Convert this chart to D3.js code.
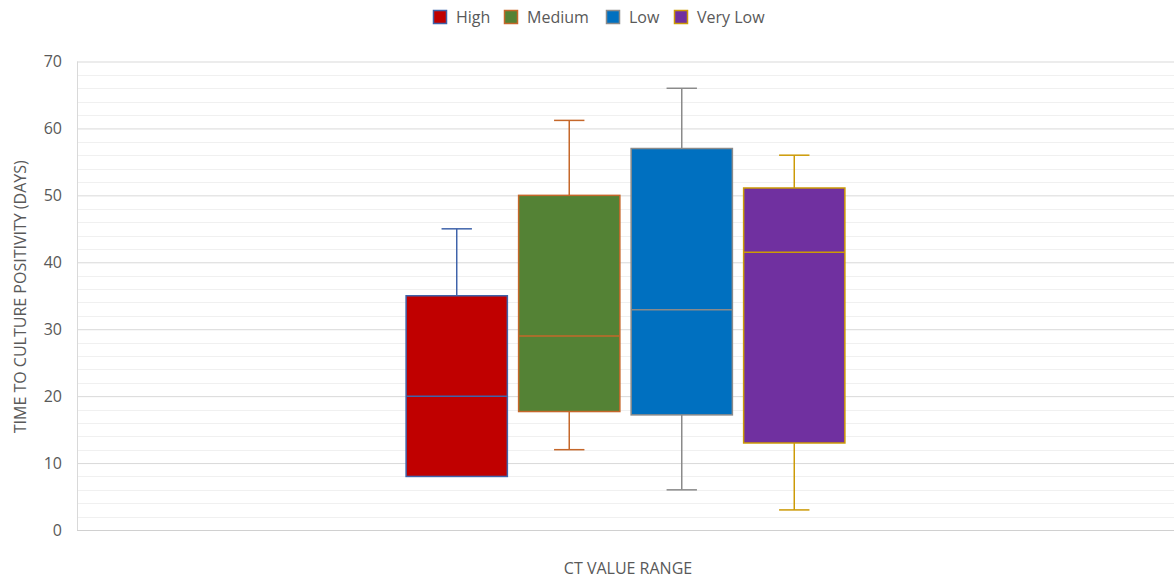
<!DOCTYPE html>
<html>
<head>
<meta charset="utf-8">
<script src="https://cdn.jsdelivr.net/npm/d3@7"></script>
<style>
  html, body { margin: 0; padding: 0; background: #fff; }
  svg { display: block; font-family: "Open Sans", "Liberation Sans", sans-serif; }
</style>
</head>
<body>
<svg id="chart" width="1175" height="580"></svg>
<script>
// ---- data ----
const seriesNames = ["High", "Medium", "Low", "Very Low"];
const whiskerMin = [8, 12, 6, 3];
const q1Values   = [8, 17.7, 17.2, 13];
const medians    = [20, 29, 32.9, 41.5];
const q3Values   = [35, 50, 57, 51.1];
const whiskerMax = [45, 61.2, 66, 56];
const yTicks = [0, 10, 20, 30, 40, 50, 60, 70];
const category = ["CT VALUE RANGE"];

// ---- styles ----
const fills   = ["#C00000", "#548235", "#0070C0", "#7030A0"];
const strokes = ["#3F63AA", "#C5672A", "#8A8A8A", "#CC9A06"];

const svg = d3.select("#chart");
const pLeft = 77, pRight = 1174, pTop = 61.5, pBottom = 530;

const y = d3.scaleLinear().domain([0, 70]).range([pBottom, pTop]);
const x0 = d3.scaleBand().domain(category).range([pLeft, pRight]).paddingOuter(0.75).paddingInner(0);
const x1 = d3.scaleBand().domain(seriesNames).range([0, x0.bandwidth()]).paddingInner(0.1).paddingOuter(0);

// minor gridlines
const minor = d3.range(0, 70.001, 2).filter(v => v % 10 !== 0);
svg.append("g").selectAll("line").data(minor).join("line")
  .attr("x1", pLeft).attr("x2", pRight)
  .attr("y1", d => Math.round(y(d)) + 0.5).attr("y2", d => Math.round(y(d)) + 0.5)
  .attr("stroke", "#F0F0F0").attr("stroke-width", 1);

// major gridlines via axis
const yAxis = svg.append("g").attr("transform", `translate(${pLeft},0)`)
  .call(d3.axisLeft(y).tickValues(yTicks).tickSize(-(pRight - pLeft)).tickPadding(15));
yAxis.select(".domain").remove();
yAxis.selectAll(".tick line").attr("stroke", "#D9D9D9").attr("stroke-width", 1);
yAxis.selectAll(".tick text").attr("fill", "#595959").style("font-size", "16px")
  .style("font-family", "'Open Sans', sans-serif");

// left and bottom axis lines
svg.append("line").attr("x1", pLeft + 0.5).attr("x2", pLeft + 0.5).attr("y1", pTop).attr("y2", pBottom)
  .attr("stroke", "#D9D9D9");
svg.append("line").attr("x1", pLeft).attr("x2", pRight).attr("y1", pBottom + 0.5).attr("y2", pBottom + 0.5)
  .attr("stroke", "#D0D0D0");

// boxes
const data = seriesNames.map((s, i) => ({
  s, i, min: whiskerMin[i], q1: q1Values[i], med: medians[i], q3: q3Values[i], max: whiskerMax[i]
}));
const g = svg.append("g").attr("transform", `translate(${x0(category[0])},0)`);
const bw = x1.bandwidth();
const capW = bw * 0.3;
const boxes = g.selectAll("g.box").data(data).join("g").attr("class", "box");

boxes.each(function(d) {
  const sel = d3.select(this);
  const xl = x1(d.s), xc = xl + bw / 2;
  const col = strokes[d.i];
  if (d.max > d.q3) {
    sel.append("line").attr("x1", xc).attr("x2", xc).attr("y1", y(d.q3)).attr("y2", y(d.max))
      .attr("stroke", col).attr("stroke-width", 1.5);
    sel.append("line").attr("x1", xc - capW / 2).attr("x2", xc + capW / 2).attr("y1", y(d.max)).attr("y2", y(d.max))
      .attr("stroke", col).attr("stroke-width", 1.5);
  }
  if (d.min < d.q1) {
    sel.append("line").attr("x1", xc).attr("x2", xc).attr("y1", y(d.q1)).attr("y2", y(d.min))
      .attr("stroke", col).attr("stroke-width", 1.5);
    sel.append("line").attr("x1", xc - capW / 2).attr("x2", xc + capW / 2).attr("y1", y(d.min)).attr("y2", y(d.min))
      .attr("stroke", col).attr("stroke-width", 1.5);
  }
  sel.append("rect").attr("x", xl).attr("width", bw)
    .attr("y", y(d.q3)).attr("height", y(d.q1) - y(d.q3))
    .attr("fill", fills[d.i]).attr("stroke", col).attr("stroke-width", 1.5);
  sel.append("line").attr("x1", xl).attr("x2", xl + bw).attr("y1", y(d.med)).attr("y2", y(d.med))
    .attr("stroke", col).attr("stroke-width", 1.5);
});

// axis titles
svg.append("text").attr("x", 628).attr("y", 574).attr("text-anchor", "middle")
  .attr("fill", "#595959").style("font-size", "16px").text(category[0]);
svg.append("text").attr("transform", `translate(26,${(pTop + pBottom) / 2 + 1}) rotate(-90)`)
  .attr("text-anchor", "middle").attr("fill", "#595959").style("font-size", "16px")
  .text("TIME TO CULTURE POSITIVITY (DAYS)");

// legend
const legendX = [433, 504, 606, 674];
const leg = svg.append("g").selectAll("g").data(seriesNames).join("g")
  .attr("transform", (d, i) => `translate(${legendX[i]},10)`);
leg.append("rect").attr("x", 0.5).attr("y", 0.5).attr("width", 13).attr("height", 13)
  .attr("fill", (d, i) => fills[i]).attr("stroke", (d, i) => strokes[i]).attr("stroke-width", 1.5);
leg.append("text").attr("x", 23).attr("y", 13).attr("fill", "#595959")
  .style("font-size", "16px").text(d => d);
</script>
</body>
</html>
